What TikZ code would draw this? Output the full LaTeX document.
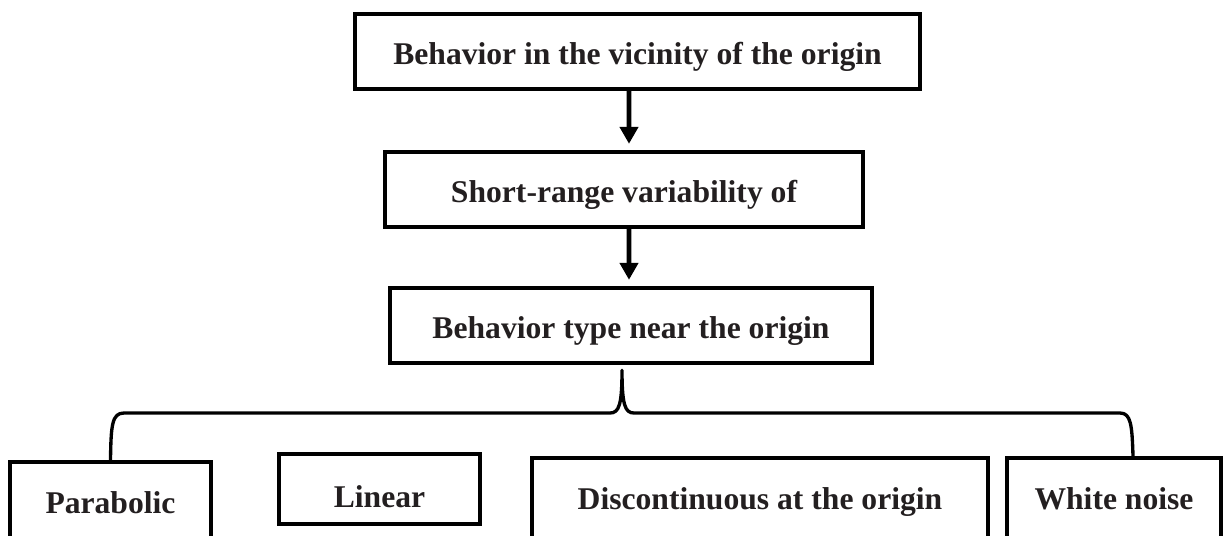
\documentclass[tikz,border=0pt]{standalone}
\usepackage{fontspec}
\setmainfont{Liberation Serif}
\usetikzlibrary{arrows.meta}

\definecolor{textgray}{RGB}{35,31,32}
\tikzset{
    box/.style={draw, line width=2.5pt, text=textgray, font=\fontsize{18}{20}\selectfont\bfseries,
        minimum height=1.5cm, text height=15.3pt, text depth=0pt, inner sep=0pt},
    lowbox/.style={box, minimum height=1.9cm, text height=4.5pt},
    arr/.style={line width=2.8pt, -{Triangle[width=0.36cm,length=0.34cm]}, shorten >=0.12cm},
    brace/.style={line width=1.9pt, line join=round}
}

\begin{document}
\begin{tikzpicture}[x=0.02cm, y=-0.02cm]
        \useasboundingbox (0,0) rectangle (1223,535);
        \clip (0,0) rectangle (1223,535);
        \node[box, minimum width=11.3cm] (vicinity) at (637.5,51.5) {Behavior in the vicinity of the origin};
        \node[box, minimum width=9.56cm] (short) at (624,189.5) {Short-range variability of};
        \node[box, minimum width=9.64cm] (type) at (631,325.5) {Behavior type near the origin};
        \node[lowbox, minimum width=4.02cm] (parab) at (110.5,509.5) {Parabolic};
        \node[box, minimum width=4.02cm, minimum height=1.4cm, text height=20.5pt] (linear) at (379.5,489) {Linear};
        \node[lowbox, minimum width=9.12cm] (disc) at (760,505.5) {Discontinuous at the origin};
        \node[lowbox, minimum width=4.28cm] (white) at (1114,505.5) {White noise};
        \draw[arr] ([xshift=-0.17cm]vicinity.south) -- ([xshift=0.1cm]short.north);
        \draw[arr] ([xshift=0.1cm]short.south) -- ([xshift=-0.04cm]type.north);
        \coordinate (tip) at ([xshift=-0.18cm,yshift=-0.1cm]type.south);
        \coordinate (lend) at (parab.north);
        \coordinate (rend) at ([xshift=0.38cm]white.north);
        \draw[brace] (lend) .. controls (111,425) and (112,413) .. (124,413) -- (610,413) .. controls (619,413) and (622,405) .. (tip) .. controls (622,405) and (625,413) .. (634,413) -- (1120,413) .. controls (1131,413) and (1132,425) .. (rend);
    \end{tikzpicture}
\end{document}
